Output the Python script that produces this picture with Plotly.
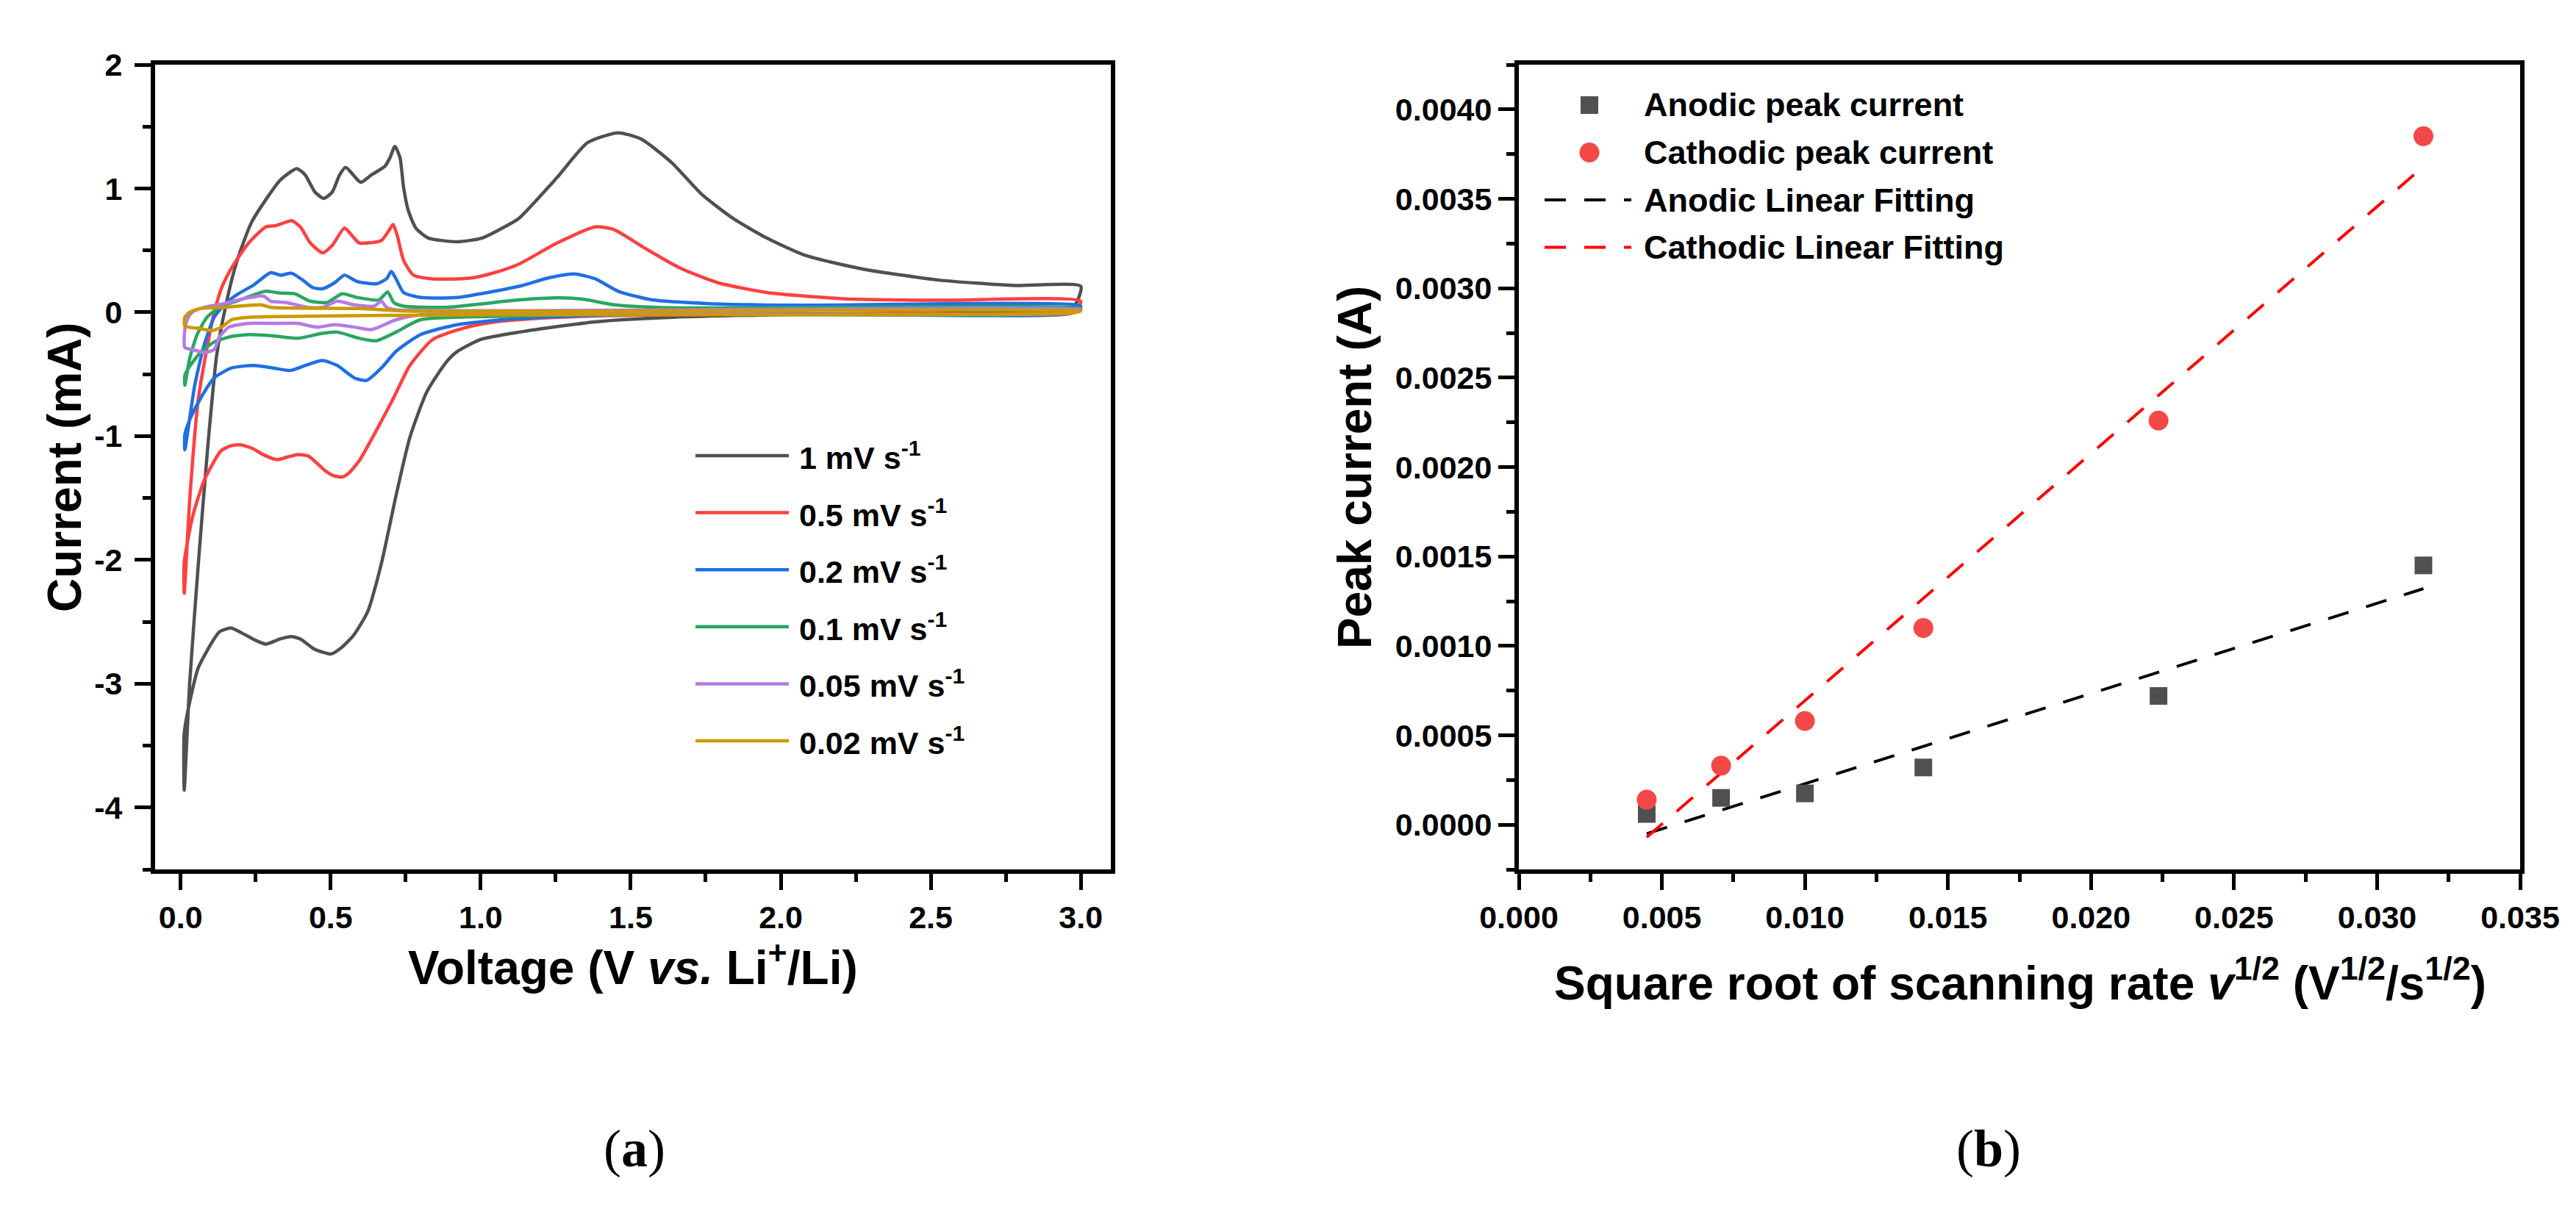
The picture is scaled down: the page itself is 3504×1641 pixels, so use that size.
import plotly.graph_objects as go

W, H = 3504, 1641
FONT = "Liberation Sans, Arial, sans-serif"

# ---------------- (a) CV curves at different scan rates ----------------
rate_labels = ['1', '0.5', '0.2', '0.1', '0.05', '0.02']
rate_colors = ['#505050', '#ff4040', '#1f6fe5', '#2aa662', '#b57ae6', '#cc9900']

# each loop: cathodic sweep 3.0 -> 0.01 V, then anodic sweep back to 3.0 V
v_1 = [3.0, 2.98, 2.9, 2.5, 2.0, 1.64, 1.38, 1.13, 1.0, 0.92, 0.886, 0.821, 0.764, 0.717, 0.67,
       0.623, 0.576, 0.535, 0.501, 0.445, 0.4, 0.369, 0.33, 0.285, 0.25, 0.219, 0.167, 0.13,
       0.106, 0.059, 0.031, 0.012, 0.012, 0.03, 0.06, 0.09, 0.12, 0.15, 0.186, 0.235, 0.284,
       0.333, 0.387, 0.415, 0.448, 0.477, 0.505, 0.53, 0.55, 0.575, 0.6, 0.636, 0.681, 0.698,
       0.714, 0.731, 0.743, 0.759, 0.784, 0.825, 0.923, 1.005, 1.087, 1.128, 1.255, 1.356,
       1.458, 1.534, 1.636, 1.738, 1.84, 1.953, 2.081, 2.272, 2.526, 2.78, 3.0]
i_1 = [0.21, 0.06, 0.01, -0.005, -0.02, -0.04, -0.077, -0.16, -0.22, -0.32, -0.4, -0.64, -1.01,
       -1.49, -2.02, -2.42, -2.61, -2.71, -2.76, -2.72, -2.64, -2.62, -2.64, -2.68, -2.65, -2.61,
       -2.55, -2.58, -2.66, -2.87, -3.14, -3.4, -3.86, -3.0, -2.0, -1.1, -0.35, 0.05, 0.4, 0.72,
       0.91, 1.07, 1.16, 1.11, 0.97, 0.92, 0.97, 1.11, 1.17, 1.11, 1.05, 1.11, 1.18, 1.25, 1.34,
       1.25, 1.01, 0.82, 0.68, 0.6, 0.57, 0.6, 0.7, 0.76, 1.09, 1.37, 1.45, 1.4, 1.21, 0.95,
       0.76, 0.6, 0.46, 0.35, 0.26, 0.216, 0.21]

v_05 = [3.0, 2.97, 2.5, 2.0, 1.64, 1.373, 1.128, 1.027, 0.94, 0.84, 0.764, 0.708, 0.651, 0.595,
        0.56, 0.538, 0.51, 0.482, 0.425, 0.388, 0.355, 0.322, 0.275, 0.24, 0.2, 0.165, 0.134,
        0.078, 0.04, 0.012, 0.012, 0.031, 0.059, 0.087, 0.112, 0.137, 0.17, 0.227, 0.284, 0.317,
        0.342, 0.37, 0.399, 0.432, 0.473, 0.505, 0.546, 0.571, 0.595, 0.669, 0.694, 0.708, 0.722,
        0.743, 0.776, 0.841, 0.964, 1.046, 1.128, 1.255, 1.382, 1.445, 1.547, 1.662, 1.789, 1.953,
        2.208, 2.526, 3.0]
i_05 = [0.09, -0.005, -0.01, -0.015, -0.02, -0.03, -0.06, -0.085, -0.13, -0.22, -0.43, -0.7,
        -0.96, -1.2, -1.3, -1.33, -1.32, -1.28, -1.16, -1.15, -1.17, -1.19, -1.15, -1.1, -1.07,
        -1.08, -1.12, -1.36, -1.65, -2.02, -2.27, -1.49, -0.7, -0.3, 0.0, 0.2, 0.36, 0.56, 0.69,
        0.7, 0.72, 0.74, 0.69, 0.56, 0.48, 0.54, 0.68, 0.62, 0.56, 0.58, 0.66, 0.71, 0.62, 0.42,
        0.3, 0.27, 0.275, 0.32, 0.39, 0.56, 0.69, 0.667, 0.518, 0.36, 0.24, 0.16, 0.11, 0.097,
        0.09]

v_02 = [3.0, 2.97, 2.0, 1.5, 1.128, 0.923, 0.8, 0.718, 0.669, 0.62, 0.579, 0.522, 0.473, 0.415,
        0.366, 0.309, 0.243, 0.17, 0.112, 0.063, 0.03, 0.014, 0.014, 0.047, 0.079, 0.112, 0.145,
        0.186, 0.243, 0.3, 0.333, 0.37, 0.407, 0.44, 0.473, 0.514, 0.546, 0.587, 0.653, 0.686,
        0.702, 0.718, 0.743, 0.8, 0.923, 1.046, 1.128, 1.23, 1.312, 1.382, 1.458, 1.572, 1.763,
        2.03, 3.0]
i_02 = [0.05, -0.005, -0.01, -0.02, -0.05, -0.1, -0.18, -0.315, -0.45, -0.55, -0.53, -0.43,
        -0.39, -0.43, -0.47, -0.45, -0.43, -0.45, -0.53, -0.71, -0.87, -0.99, -1.11, -0.59, -0.26,
        -0.04, 0.06, 0.14, 0.22, 0.32, 0.3, 0.315, 0.26, 0.2, 0.19, 0.24, 0.3, 0.25, 0.23, 0.27,
        0.33, 0.27, 0.16, 0.12, 0.12, 0.17, 0.21, 0.28, 0.31, 0.27, 0.17, 0.1, 0.07, 0.057, 0.05]

v_01 = [3.0, 2.97, 1.5, 1.128, 0.8, 0.718, 0.653, 0.595, 0.522, 0.473, 0.391, 0.309, 0.227,
        0.161, 0.112, 0.071, 0.038, 0.014, 0.014, 0.03, 0.055, 0.088, 0.129, 0.186, 0.243, 0.284,
        0.333, 0.38, 0.432, 0.489, 0.538, 0.587, 0.661, 0.69, 0.71, 0.743, 0.882, 1.128, 1.255,
        1.344, 1.445, 1.636, 3.0]
i_01 = [0.03, -0.005, -0.01, -0.03, -0.06, -0.16, -0.23, -0.21, -0.16, -0.17, -0.21, -0.19,
        -0.18, -0.2, -0.24, -0.315, -0.41, -0.51, -0.59, -0.375, -0.18, -0.04, 0.04, 0.09, 0.14,
        0.17, 0.155, 0.15, 0.09, 0.08, 0.15, 0.12, 0.1, 0.165, 0.08, 0.05, 0.04, 0.1, 0.117,
        0.105, 0.06, 0.036, 0.03]

v_005 = [3.0, 2.97, 0.8, 0.718, 0.636, 0.579, 0.514, 0.456, 0.391, 0.309, 0.227, 0.161, 0.129,
         0.112, 0.079, 0.038, 0.014, 0.014, 0.022, 0.038, 0.079, 0.145, 0.21, 0.276, 0.3, 0.35,
         0.423, 0.473, 0.522, 0.579, 0.645, 0.669, 0.686, 0.718, 3.0]
i_005 = [0.02, -0.005, -0.02, -0.06, -0.14, -0.12, -0.1, -0.12, -0.09, -0.09, -0.09, -0.12, -0.2,
         -0.3, -0.325, -0.3, -0.285, -0.14, -0.06, 0.0, 0.04, 0.07, 0.11, 0.13, 0.09, 0.08, 0.04,
         0.04, 0.09, 0.06, 0.05, 0.09, 0.04, 0.02, 0.02]

v_002 = [3.0, 2.97, 1.0, 0.473, 0.227, 0.17, 0.137, 0.105, 0.06, 0.014, 0.014, 0.03, 0.063, 0.145,
         0.268, 0.3, 0.6, 0.75, 3.0]
i_002 = [0.01, -0.005, -0.02, -0.03, -0.04, -0.06, -0.12, -0.147, -0.13, -0.11, -0.04, 0.0, 0.03,
         0.04, 0.06, 0.04, 0.03, 0.01, 0.01]

cv_v = [v_1, v_05, v_02, v_01, v_005, v_002]
cv_i = [i_1, i_05, i_02, i_01, i_005, i_002]

y_tick_vals = [-4, -3, -2, -1, 0, 1, 2]
y_tick_text = ['-4', '-3', '-2', '-1', '0', '1', '2']

# ---------------- (b) peak current vs sqrt(scan rate) ----------------
sqrt_rate = [0.00447, 0.00707, 0.01, 0.01414, 0.02236, 0.03162]
anodic_peak = [0.00006, 0.00015, 0.000175, 0.00032, 0.00072, 0.00145]
cathodic_peak = [0.00014, 0.00033, 0.00058, 0.0011, 0.00226, 0.00385]
fit_x = [0.00447, 0.03162]
anodic_fit = [-0.00005, 0.00132]
cathodic_fit = [-0.00007, 0.00368]

fig = go.Figure()

for v, cur, col in zip(cv_v, cv_i, rate_colors):
    fig.add_trace(go.Scatter(x=v, y=cur, mode='lines', showlegend=False,
                             line=dict(color=col, width=4.5, shape='spline', smoothing=0.6),
                             xaxis='x', yaxis='y'))

fig.add_trace(go.Scatter(x=fit_x, y=anodic_fit, mode='lines', showlegend=False,
                         line=dict(color='black', width=4, dash='29px,25px'), xaxis='x2', yaxis='y2'))
fig.add_trace(go.Scatter(x=fit_x, y=cathodic_fit, mode='lines', showlegend=False,
                         line=dict(color='#ff0000', width=4, dash='29px,25px'), xaxis='x2', yaxis='y2'))
fig.add_trace(go.Scatter(x=sqrt_rate, y=anodic_peak, mode='markers', showlegend=False,
                         marker=dict(symbol='square', size=24, color='#505050'), xaxis='x2', yaxis='y2'))
fig.add_trace(go.Scatter(x=sqrt_rate, y=cathodic_peak, mode='markers', showlegend=False,
                         marker=dict(symbol='circle', size=27, color='#f44848'), xaxis='x2', yaxis='y2'))


def px_x(p):
    return p / W


def px_y(p):
    return 1 - p / H


tick_font = dict(family=FONT, size=43, color='black', weight='bold')
title_font = dict(family=FONT, size=64, color='black', weight='bold')


def frame(**kw):
    ax = dict(showline=True, linewidth=6, linecolor='black', mirror=True, automargin=False,
              ticks='outside', ticklen=22, tickwidth=5, tickcolor='black',
              showgrid=False, zeroline=False, tickfont=tick_font)
    ax.update(kw)
    return ax


fig.update_layout(
    width=W, height=H, autosize=False,
    margin=dict(l=0, r=0, t=0, b=0, autoexpand=False),
    paper_bgcolor='white', plot_bgcolor='white',
    xaxis=frame(domain=[px_x(203), px_x(1503)], range=[-0.085, 3.1], dtick=0.5, tick0=0,
                tickformat='.1f', anchor='y',
                minor=dict(ticks='outside', ticklen=11, tickwidth=5, tickcolor='black',
                           dtick=0.25, tick0=0)),
    yaxis=frame(domain=[px_y(1175), px_y(80)], range=[-4.5, 2], tickmode='array',
                tickvals=y_tick_vals, ticktext=y_tick_text, anchor='x', ticklabelstandoff=8,
                minor=dict(ticks='outside', ticklen=11, tickwidth=5, tickcolor='black',
                           tickmode='linear', dtick=0.5, tick0=0)),
    xaxis2=frame(domain=[px_x(2058), px_x(3420)], range=[0, 0.035], dtick=0.005, tick0=0,
                 tickformat='.3f', anchor='y2',
                 minor=dict(ticks='outside', ticklen=11, tickwidth=5, tickcolor='black',
                            dtick=0.0025, tick0=0)),
    yaxis2=frame(domain=[px_y(1175), px_y(80)], range=[-0.00025, 0.00425], dtick=0.0005,
                 tick0=0, tickformat='.4f', anchor='x2',
                 minor=dict(ticks='outside', ticklen=11, tickwidth=5, tickcolor='black',
                            dtick=0.00025, tick0=0)),
)

# axis titles, placed as annotations for exact positions
axis_titles = [
    ('Voltage (V <i>vs.</i> Li<sup>+</sup>/Li)', 853, 1304, 0),
    ('Current (mA)', 80, 628, -90),
    ('Square root of scanning rate <i>v</i><sup>1/2</sup> (V<sup>1/2</sup>/s<sup>1/2</sup>)',
     2740, 1325, 0),
    ('Peak current (A)', 1835, 628, -90),
]
for txt, cx, cy, ang in axis_titles:
    fig.add_annotation(xref='paper', yref='paper', x=px_x(cx), y=px_y(cy), text=txt,
                       textangle=ang, xanchor='center', yanchor='middle', showarrow=False,
                       font=title_font)

# legend of (a), drawn by hand to get the long line samples
leg_font = dict(family=FONT, size=43, color='black', weight='bold')
for k, (lab, col) in enumerate(zip(rate_labels, rate_colors)):
    yy = px_y(612 + k * 77.6)
    fig.add_shape(type='line', xref='paper', yref='paper', x0=px_x(938), x1=px_x(1065),
                  y0=yy, y1=yy, line=dict(color=col, width=4.5))
    fig.add_annotation(xref='paper', yref='paper', x=px_x(1077), y=yy, xanchor='left',
                       yanchor='middle', showarrow=False, font=leg_font,
                       text=f'{lab} mV s<sup>-1</sup>')

# legend of (b)
leg_b = [('Anodic peak current', 'square', '#505050'),
         ('Cathodic peak current', 'circle', '#f44848'),
         ('Anodic Linear Fitting', 'dash', 'black'),
         ('Cathodic Linear Fitting', 'dash', '#ff0000')]
for k, (lab, kind, col) in enumerate(leg_b):
    yc = 135 + k * 64.5
    if kind == 'square':
        fig.add_shape(type='rect', xref='paper', yref='paper', x0=px_x(2142), x1=px_x(2166),
                      y0=px_y(yc + 12), y1=px_y(yc - 12), fillcolor=col, line=dict(width=0))
    elif kind == 'circle':
        fig.add_shape(type='circle', xref='paper', yref='paper', x0=px_x(2140.5), x1=px_x(2167.5),
                      y0=px_y(yc + 13.5), y1=px_y(yc - 13.5), fillcolor=col, line=dict(width=0))
    else:
        fig.add_shape(type='line', xref='paper', yref='paper', x0=px_x(2093), x1=px_x(2211),
                      y0=px_y(yc), y1=px_y(yc), line=dict(color=col, width=4, dash='29px,25px'))
    fig.add_annotation(xref='paper', yref='paper', x=px_x(2226), y=px_y(yc), xanchor='left',
                       yanchor='middle', showarrow=False,
                       font=dict(family=FONT, size=45, color='black', weight='bold'), text=lab)

# panel captions
cap_font = dict(family='Liberation Serif, serif', size=72, color='black')
fig.add_annotation(xref='paper', yref='paper', x=px_x(855), y=px_y(1555), showarrow=False,
                   xanchor='center', yanchor='middle', font=cap_font, text='(<b>a</b>)')
fig.add_annotation(xref='paper', yref='paper', x=px_x(2697), y=px_y(1555), showarrow=False,
                   xanchor='center', yanchor='middle', font=cap_font, text='(<b>b</b>)')

fig.write_html("out.html")
